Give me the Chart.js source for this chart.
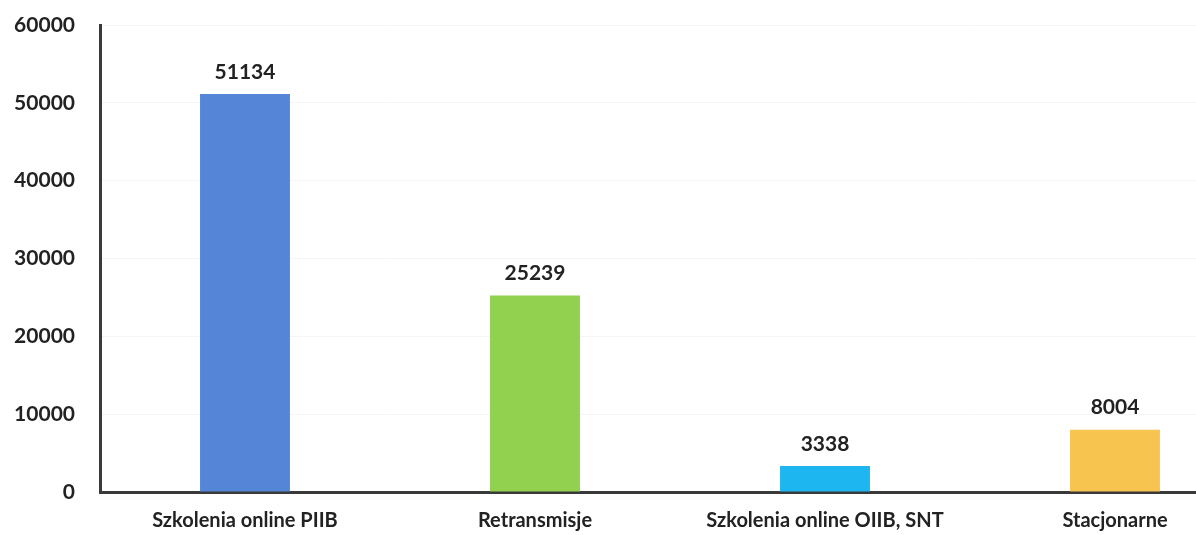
<!DOCTYPE html>
<html>
<head>
<meta charset="utf-8">
<script src="https://cdn.jsdelivr.net/npm/chart.js@4.4.0/dist/chart.umd.min.js"></script>
<style>
  html, body { margin: 0; padding: 0; background: #fff; overflow: hidden; }
  #wrap { width: 1260px; height: 535px; }
</style>
</head>
<body>
<div id="wrap"><canvas id="chart" width="1260" height="535"></canvas></div>
<script>
  const categories = ['Szkolenia online PIIB', 'Retransmisje', 'Szkolenia online OIIB, SNT', 'Stacjonarne'];
  const values = [51134, 25239, 3338, 8004];
  const barColors = ['#5585D6', '#92D050', '#1DB6F0', '#F8C450'];
  const yTicks = [0, 10000, 20000, 30000, 40000, 50000, 60000];

  const fontFamily = 'Lato, "Open Sans", sans-serif';

  // value labels above bars
  const valueLabels = {
    id: 'valueLabels',
    afterDatasetsDraw(chart) {
      const ctx = chart.ctx;
      const meta = chart.getDatasetMeta(0);
      ctx.save();
      ctx.font = 'bold 21px ' + fontFamily;
      ctx.fillStyle = '#222';
      ctx.textAlign = 'center';
      ctx.textBaseline = 'middle';
      meta.data.forEach((bar, i) => {
        ctx.fillText(values[i], bar.x, bar.y - 22);
      });
      ctx.restore();
    }
  };

  new Chart(document.getElementById('chart').getContext('2d'), {
    type: 'bar',
    data: {
      labels: categories,
      datasets: [{
        data: values,
        backgroundColor: barColors,
        barPercentage: 0.62,
        categoryPercentage: 0.5
      }]
    },
    options: {
      responsive: false,
      animation: false,
      layout: { padding: 0 },
      plugins: {
        legend: { display: false },
        tooltip: { enabled: false }
      },
      scales: {
        x: {
          grid: { display: false, drawTicks: false },
          border: { display: true, color: '#3a3a3a', width: 3 },
          ticks: {
            color: '#222',
            font: { family: fontFamily, size: 20, weight: 'bold' },
            padding: 17,
            maxRotation: 0
          },
          afterFit(scale) { scale.height = 43; }
        },
        y: {
          min: 0,
          max: 60000,
          afterBuildTicks(scale) { scale.ticks = yTicks.map(v => ({ value: v })); },
          grid: { color: '#f4f4f4', drawTicks: false },
          border: { display: true, color: '#3a3a3a', width: 3 },
          ticks: {
            color: '#222',
            font: { family: fontFamily, size: 21, weight: 'bold' },
            padding: 25,
            callback: v => String(v)
          },
          afterFit(scale) {
            scale.width = 100;
            scale.paddingTop = 25;
            scale.paddingBottom = 0;
          }
        }
      }
    },
    plugins: [valueLabels]
  });
</script>
</body>
</html>
